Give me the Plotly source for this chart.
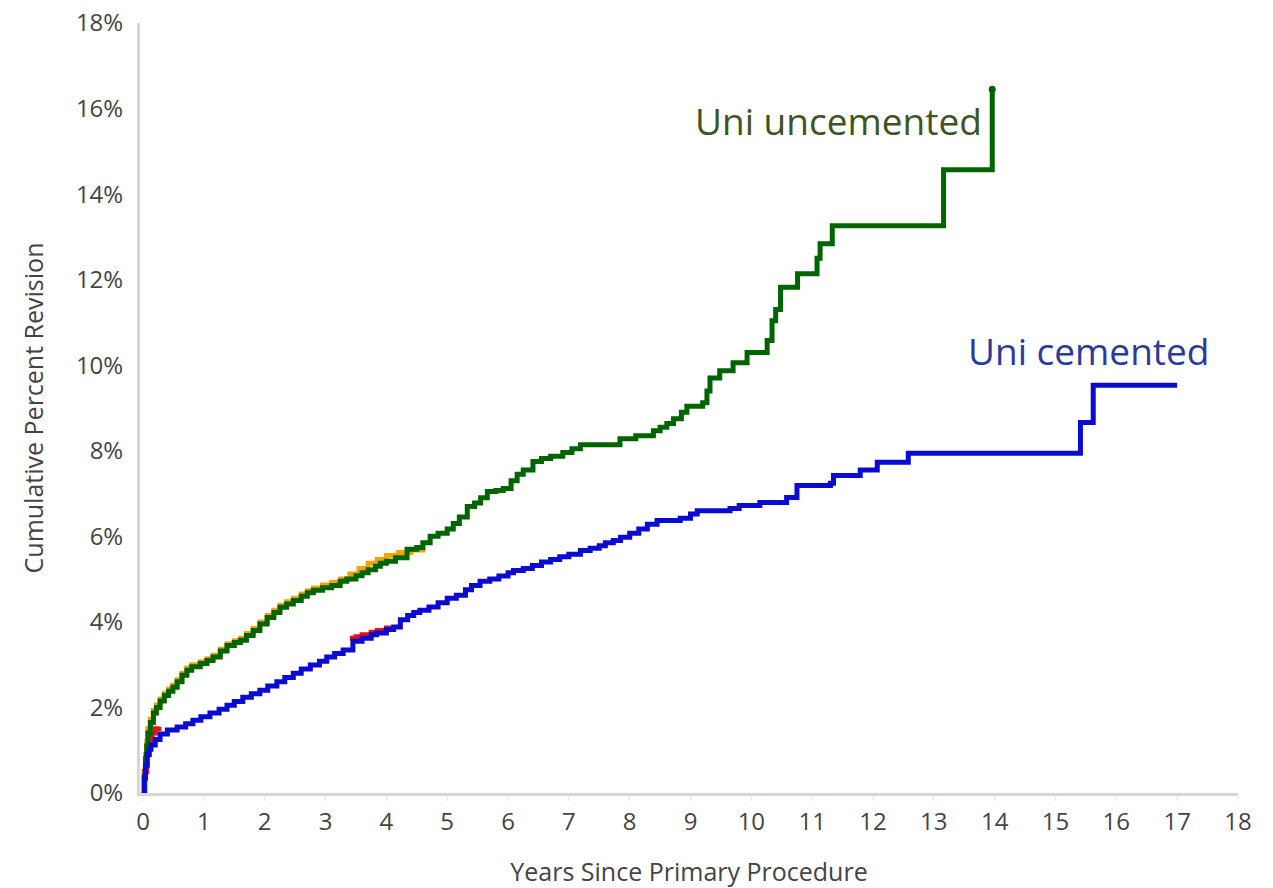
import plotly.graph_objects as go

# Uni uncemented (green)
green_x = [0, 0.02, 0.04, 0.06, 0.08, 0.12, 0.17, 0.22, 0.28, 0.35, 0.42, 0.49, 0.56, 0.64, 0.72, 0.8,
           0.94, 1.05, 1.15, 1.27, 1.38, 1.5, 1.6, 1.7, 1.81, 1.92, 2.04, 2.15, 2.25, 2.36, 2.47, 2.6,
           2.7, 2.8, 2.95, 3.1, 3.24, 3.35, 3.5, 3.6, 3.7, 3.82, 3.9, 4.0, 4.15, 4.34, 4.5, 4.6, 4.72,
           4.85, 5.0, 5.1, 5.2, 5.33, 5.45, 5.55, 5.66, 5.8, 5.92, 6.05, 6.15, 6.25, 6.41, 6.55, 6.7,
           6.9, 7.05, 7.19, 7.84, 8.1, 8.39, 8.5, 8.61, 8.72, 8.85, 8.94, 9.2, 9.27, 9.32, 9.48, 9.7,
           9.93, 10.26, 10.34, 10.4, 10.48, 10.76, 11.08, 11.13, 11.33, 13.16, 13.96]
green_y = [0, 0.4, 0.8, 1.1, 1.4, 1.65, 1.87, 2.0, 2.15, 2.28, 2.38, 2.47, 2.6, 2.75, 2.87, 2.95,
           3.03, 3.1, 3.18, 3.32, 3.45, 3.52, 3.57, 3.68, 3.8, 3.95, 4.1, 4.22, 4.34, 4.42, 4.5, 4.6,
           4.68, 4.74, 4.8, 4.85, 4.95, 5.0, 5.08, 5.15, 5.22, 5.3, 5.37, 5.42, 5.5, 5.7, 5.74, 5.85, 6.0,
           6.07, 6.17, 6.3, 6.45, 6.7, 6.78, 6.9, 7.05, 7.07, 7.12, 7.3, 7.45, 7.55, 7.75, 7.82, 7.87,
           7.96, 8.05, 8.14, 8.28, 8.35, 8.47, 8.55, 8.64, 8.75, 8.9, 9.04, 9.12, 9.4, 9.7, 9.87, 10.06,
           10.3, 10.58, 11.04, 11.3, 11.82, 12.14, 12.5, 12.84, 13.26, 14.57, 16.45]

# Uni cemented (blue)
blue_x = [0, 0.02, 0.04, 0.07, 0.1, 0.13, 0.2, 0.28, 0.4, 0.56, 0.7, 0.82, 0.95, 1.1, 1.25, 1.38, 1.5,
          1.64, 1.78, 1.92, 2.05, 2.2, 2.33, 2.47, 2.6, 2.75, 2.9, 3.02, 3.15, 3.29, 3.45, 3.6, 3.75,
          3.84, 4.0, 4.12, 4.23, 4.35, 4.45, 4.55, 4.7, 4.85, 5.0, 5.15, 5.3, 5.4, 5.54, 5.7, 5.85, 6.0,
          6.09, 6.25, 6.4, 6.55, 6.7, 6.85, 7.0, 7.19, 7.35, 7.5, 7.6, 7.73, 7.85, 8.0, 8.15, 8.29,
          8.45, 8.83, 9.0, 9.11, 9.65, 9.8, 10.14, 10.58, 10.75, 11.3, 11.35, 11.79, 12.07, 12.58,
          15.41, 15.62, 17.0]
blue_y = [0, 0.35, 0.65, 0.9, 1.02, 1.12, 1.25, 1.38, 1.47, 1.54, 1.62, 1.7, 1.78, 1.87, 1.96, 2.05,
          2.14, 2.24, 2.32, 2.4, 2.5, 2.6, 2.7, 2.8, 2.9, 2.99, 3.08, 3.18, 3.26, 3.34, 3.55, 3.62, 3.7,
          3.74, 3.82, 3.88, 4.05, 4.15, 4.22, 4.27, 4.35, 4.45, 4.55, 4.62, 4.75, 4.85, 4.95, 5.0, 5.07,
          5.15, 5.2, 5.25, 5.32, 5.4, 5.46, 5.52, 5.58, 5.67, 5.72, 5.78, 5.85, 5.9, 5.98, 6.07, 6.17,
          6.28, 6.37, 6.42, 6.52, 6.6, 6.65, 6.72, 6.79, 6.91, 7.19, 7.24, 7.42, 7.55, 7.73, 7.94,
          8.66, 9.53, 9.53]

# partially hidden series (orange, red)
orange_x = [0, 0.02, 0.04, 0.06, 0.08, 0.12, 0.17, 0.22, 0.28, 0.35, 0.42, 0.49, 0.56, 0.64, 0.72,
            0.8, 0.94, 1.05, 1.15, 1.27, 1.38, 1.5, 1.6, 1.7, 1.81, 1.92, 2.04, 2.15, 2.25, 2.36, 2.47,
            2.6, 2.7, 2.8, 2.95, 3.1, 3.25, 3.4, 3.55, 3.7, 3.85, 4.0, 4.2, 4.4, 4.6]
orange_y = [0, 0.5, 0.9, 1.2, 1.5, 1.72, 1.93, 2.06, 2.2, 2.33, 2.43, 2.52, 2.65, 2.8, 2.92,
            3.0, 3.07, 3.14, 3.22, 3.36, 3.49, 3.56, 3.62, 3.73, 3.85, 4.0, 4.15, 4.27, 4.39, 4.47, 4.55,
            4.65, 4.73, 4.79, 4.86, 4.92, 5.0, 5.12, 5.25, 5.37, 5.46, 5.55, 5.62, 5.68, 5.76]
red_x = [0, 0.03, 0.06, 0.1, 0.15, 0.2, 0.26, None, 3.4, 3.5, 3.6, 3.75, 3.85, 4.0, 4.1]
red_y = [0, 0.5, 0.9, 1.2, 1.4, 1.5, 1.55, None, 3.62, 3.65, 3.7, 3.76, 3.8, 3.86, 3.9]

x_ticks = list(range(0, 19))
y_ticks = list(range(0, 19, 2))

FONT = "Open Sans"
TXT = "#444444"

fig = go.Figure()
fig.add_trace(go.Scatter(x=orange_x, y=orange_y, mode="lines",
                         line=dict(color="#f5a300", width=5, shape="hv"),
                         hoverinfo="skip", connectgaps=False))
fig.add_trace(go.Scatter(x=red_x, y=red_y, mode="lines",
                         line=dict(color="#e81010", width=5, shape="hv"),
                         hoverinfo="skip", connectgaps=False))
fig.add_trace(go.Scatter(x=green_x, y=green_y, mode="lines",
                         line=dict(color="#006400", width=5, shape="hv"), name="Uni uncemented"))
fig.add_trace(go.Scatter(x=[green_x[-1]], y=[green_y[-1]], mode="markers",
                         marker=dict(color="#006400", size=7), hoverinfo="skip"))
fig.add_trace(go.Scatter(x=blue_x, y=blue_y, mode="lines",
                         line=dict(color="#0a0ad2", width=5, shape="hv"), name="Uni cemented"))

fig.add_annotation(x=11.43, y=15.71, text="Uni uncemented", showarrow=False,
                   font=dict(family=FONT, size=37, color="#3e5422"))
fig.add_annotation(x=15.55, y=10.34, text="Uni cemented", showarrow=False,
                   font=dict(family=FONT, size=37, color="#2b3a9c"))

fig.update_layout(
    width=1273, height=888,
    margin=dict(l=140, r=35, t=23, b=95),
    paper_bgcolor="white", plot_bgcolor="white",
    showlegend=False,
    font=dict(family=FONT, color=TXT),
)
fig.update_xaxes(range=[-0.05, 18], tickvals=x_ticks, ticktext=[str(v) for v in x_ticks],
                 automargin=False, ticklabeloverflow="allow",
                 showgrid=False, zeroline=False, showline=True, linecolor="#d6d6d6", linewidth=3,
                 ticks="outside", ticklen=5, tickcolor="#ececec",
                 tickfont=dict(family=FONT, size=24, color=TXT),
                 title=dict(text="Years Since Primary Procedure", font=dict(family=FONT, size=25, color=TXT),
                            standoff=34))
fig.update_yaxes(range=[0, 18], tickvals=y_ticks, ticktext=[f"{v}%" for v in y_ticks],
                 automargin=False, ticklabeloverflow="allow",
                 showgrid=False, zeroline=False, showline=True, linecolor="#d6d6d6", linewidth=3,
                 ticks="outside", ticklen=9, tickcolor="rgba(0,0,0,0)",
                 tickfont=dict(family=FONT, size=24, color=TXT),
                 title=dict(text="Cumulative Percent Revision", font=dict(family=FONT, size=25, color=TXT),
                            standoff=26))

fig.write_html("out.html", config={"displayModeBar": False},
               post_script="document.body.style.margin='0px';document.body.style.overflow='hidden';")
